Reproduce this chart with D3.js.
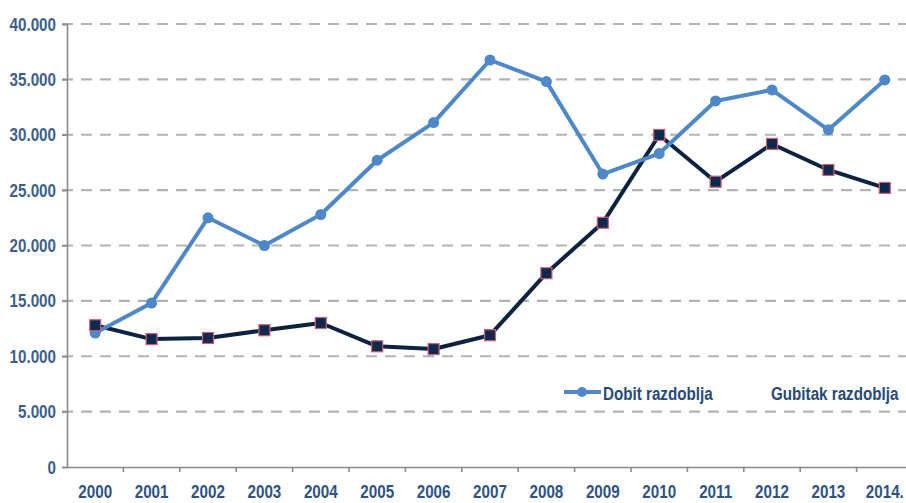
<!DOCTYPE html>
<html><head><meta charset="utf-8">
<script src="https://cdn.jsdelivr.net/npm/d3@7"></script>
<style>
body{margin:0;background:#fff;}
svg{display:block;}
text{font-family:"Liberation Sans","Arial",sans-serif;font-weight:bold;}
</style></head>
<body>
<svg id="c" width="906" height="503"></svg>
<script>
const years = ["2000","2001","2002","2003","2004","2005","2006","2007","2008","2009","2010","2011","2012","2013","2014."];
const dobit = [12100,14800,22500,20000,22800,27700,31100,36750,34800,26450,28300,33050,34050,30450,34950];
const gubitak = [12800,11550,11650,12350,13000,10900,10650,11900,17500,22050,29980,25760,29170,26820,25200];
const yTicks = [0,5000,10000,15000,20000,25000,30000,35000,40000];
const seriesNames = ["Dobit razdoblja","Gubitak razdoblja"];

const svg = d3.select("#c");
const x0 = 67, x1 = 913, yTop = 24, yBot = 467;
const sx = 0.8;
const x = d3.scaleBand().domain(years).range([x0, x1]);
const y = d3.scaleLinear().domain([0, 40000]).range([yBot, yTop]);
const cx = d => x(d) + x.bandwidth()/2;
const fmt = v => v === 0 ? "0" : d3.format(",")(v).replace(/,/g, ".");

// grid
svg.append("g").selectAll("line").data(yTicks.filter(t => t > 0)).join("line")
  .attr("x1", 62).attr("x2", 906).attr("y1", d => y(d)).attr("y2", d => y(d))
  .attr("stroke", "#b3b3b3").attr("stroke-width", 2.2).attr("stroke-dasharray", "11,8");

// y axis
const ya = svg.append("g").attr("transform", `translate(${x0},0)`)
  .call(d3.axisLeft(y).tickValues(yTicks).tickFormat(fmt).tickSize(5).tickPadding(6));
ya.select(".domain").attr("stroke", "#8a8a8a").attr("stroke-width", 1.6);
ya.selectAll(".tick line").attr("stroke", "#8a8a8a").attr("stroke-width", 1.6);
ya.selectAll("text").attr("fill", "#3e5f8a").attr("font-size", 19)
  .attr("x", -11 / sx).attr("transform", `scale(${sx},1)`);

// x axis
const xa = svg.append("g").attr("transform", `translate(0,${yBot})`)
  .call(d3.axisBottom(x).tickSize(0).tickPadding(18));
xa.select(".domain").attr("stroke", "#8a8a8a").attr("stroke-width", 1.6);
xa.selectAll("text").attr("fill", "#2e5385").attr("font-size", 19)
  .attr("transform", `scale(${sx},1)`);
svg.append("g").selectAll("line").data(years.slice(1)).join("line")
  .attr("x1", d => x(d)).attr("x2", d => x(d)).attr("y1", yBot).attr("y2", yBot + 5)
  .attr("stroke", "#8a8a8a").attr("stroke-width", 1.6);

const line = d3.line().x((d, i) => cx(years[i])).y(d => y(d));

// gubitak
svg.append("path").datum(gubitak).attr("d", line).attr("fill", "none")
  .attr("stroke", "#0c2340").attr("stroke-width", 4).attr("stroke-linejoin", "round");
// dobit
svg.append("path").datum(dobit).attr("d", line).attr("fill", "none")
  .attr("stroke", "#4f88c9").attr("stroke-width", 4).attr("stroke-linejoin", "round");
svg.append("g").selectAll("circle").data(dobit).join("circle")
  .attr("cx", (d, i) => cx(years[i])).attr("cy", d => y(d)).attr("r", 5.5)
  .attr("fill", "#4f88c9");
svg.append("g").selectAll("rect").data(gubitak).join("rect")
  .attr("x", (d, i) => cx(years[i]) - 5.5).attr("y", d => y(d) - 5.5)
  .attr("width", 11).attr("height", 11)
  .attr("fill", "#0c2a4f").attr("stroke", "#d06070").attr("stroke-width", 1.2);

// legend
const lg = svg.append("g");
lg.append("line").attr("x1", 564).attr("x2", 601).attr("y1", 392).attr("y2", 392)
  .attr("stroke", "#4f88c9").attr("stroke-width", 4);
lg.append("circle").attr("cx", 582).attr("cy", 392).attr("r", 5).attr("fill", "#4f88c9");
lg.append("text").attr("transform", `translate(603,400) scale(${sx},1)`)
  .attr("font-size", 19).attr("fill", "#284a78").text(seriesNames[0]);
lg.append("text").attr("transform", `translate(771,400) scale(${sx},1)`)
  .attr("font-size", 19).attr("fill", "#284a78").text(seriesNames[1]);
</script>
</body></html>
